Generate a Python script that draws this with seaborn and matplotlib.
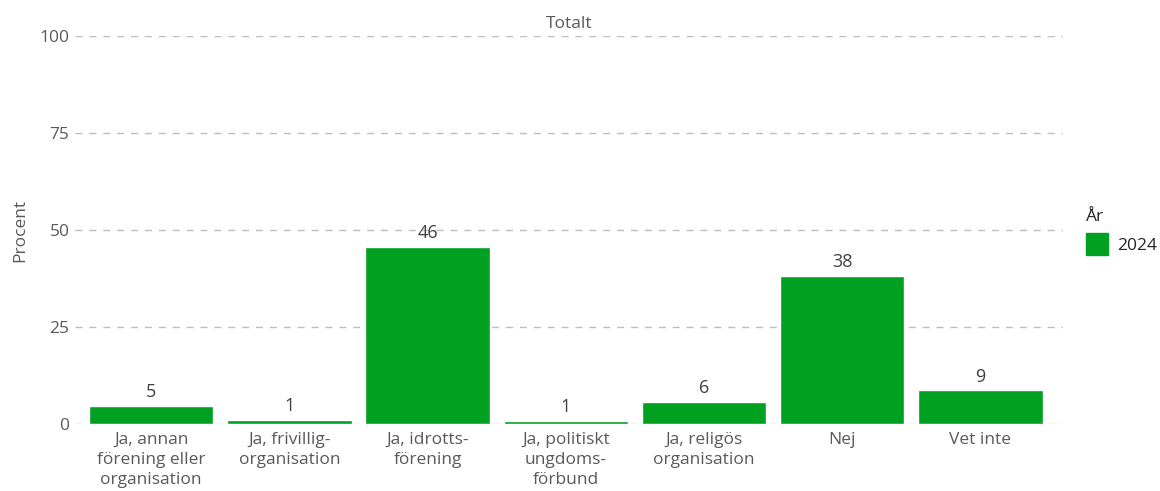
import pandas as pd
import matplotlib.pyplot as plt
import seaborn as sns
from matplotlib.patches import Patch

categories = ["Ja, annan\nförening eller\norganisation", "Ja, frivillig-\norganisation",
              "Ja, idrotts-\nförening", "Ja, politiskt\nungdoms-\nförbund",
              "Ja, religös\norganisation", "Nej", "Vet inte"]
values = [4.6, 1.0, 45.7, 0.8, 5.7, 38.2, 8.7]
year = ["2024"] * len(categories)

df = pd.DataFrame({"svar": categories, "procent": values, "ar": year})

sns.set_style("white")
plt.rcParams["font.family"] = ["Open Sans", "DejaVu Sans"]

green = "#00A020"
grey = "#595959"

fig = plt.figure(figsize=(11.6, 4.91), dpi=100)
ax = fig.add_axes([0.0647, 0.1365, 0.852, 0.79])

sns.barplot(data=df, x="svar", y="procent", color=green, width=0.9,
            saturation=1, ax=ax, zorder=3)

for i, v in enumerate(values):
    ax.text(i, v + 1.2, f"{round(v):.0f}", ha="center", va="bottom",
            fontsize=13, color="#404040")

ax.set_ylim(0, 100)
ax.set_xlim(-0.55, 6.6)
ax.set_yticks([0, 25, 50, 75, 100])
ax.yaxis.grid(True, color="#bdbdbd", linestyle=(0, (5, 5)), linewidth=1)
ax.set_axisbelow(True)
for s in ax.spines.values():
    s.set_visible(False)
ax.tick_params(axis="y", length=0, labelsize=12.5, labelcolor=grey, pad=4)
ax.tick_params(axis="x", length=4, color="#bdbdbd", labelsize=12.5,
               labelcolor=grey, pad=2)
for lbl in ax.get_xticklabels():
    lbl.set_linespacing(1.3)
ax.set_xlabel("")
ax.set_ylabel("Procent", fontsize=12.5, color=grey, labelpad=8)
ax.set_title("Totalt", fontsize=12.5, color=grey, pad=6)

fig.legend(handles=[Patch(color=green, label="2024")], title="År",
           loc="upper left", bbox_to_anchor=(0.936, 0.575), frameon=False,
           fontsize=12.5, title_fontsize=12.5, handlelength=1.3,
           handleheight=1.5, handletextpad=0.5, borderaxespad=0,
           borderpad=0, alignment="left")

fig.savefig("out.png", dpi=100)
